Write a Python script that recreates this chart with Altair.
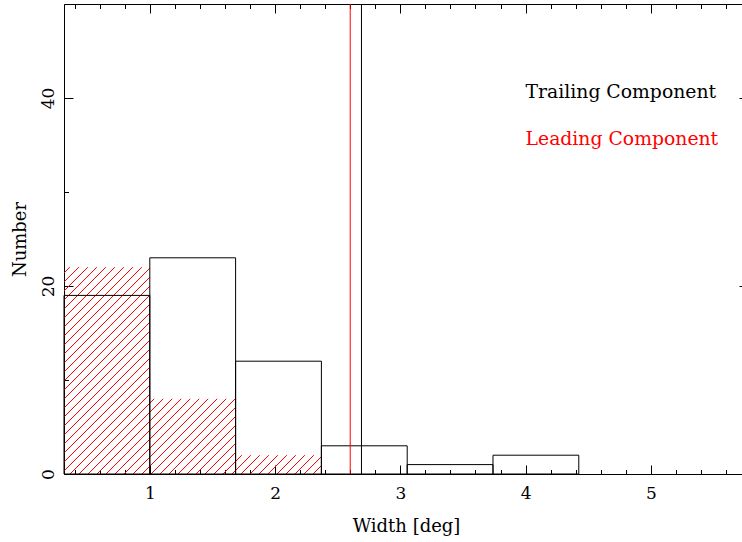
import json
import math
import altair as alt
import pandas as pd

# ---------------- data ----------------
BIN_EDGES = [0.315, 1.0, 1.685, 2.37, 3.055, 3.74, 4.425]
TRAILING_COUNTS = [19, 23, 12, 3, 1, 2]
LEADING_COUNTS = [22, 8, 2]
MARKER_POS = [2.6, 2.69]
MARKER_COLORS = ["#ff0000", "#000000"]
LABEL_TEXT = ["Trailing Component", "Leading Component"]
LABEL_X = [4.0, 4.0]
LABEL_Y = [40, 35]
LABEL_COLORS = ["#000000", "#ff0000"]

X_DOMAIN = [0.315, 5.728]
Y_DOMAIN = [0, 50]
X_TICKS = [0.4, 0.6, 0.8, 1, 1.2, 1.4, 1.6, 1.8, 2, 2.2, 2.4, 2.6, 2.8, 3,
           3.2, 3.4, 3.6, 3.8, 4, 4.2, 4.4, 4.6, 4.8, 5, 5.2, 5.4, 5.6]
X_MAJOR = [1, 2, 3, 4, 5]
Y_TICKS = [0, 10, 20, 30, 40, 50]
Y_MAJOR = [0, 20, 40]
RIGHT_TICKS = [20, 40]

W, H = 678, 470
FONT = "DejaVu Serif"

# ---------------- tables ----------------
bars = pd.DataFrame({
    "x0": BIN_EDGES[:-1],
    "x1": BIN_EDGES[1:],
    "count": TRAILING_COUNTS,
    "base": [0] * len(TRAILING_COUNTS),
})

# hatch segments (45 degree in screen space) clipped to each leading bar
px_x = W / (X_DOMAIN[1] - X_DOMAIN[0])
px_y = H / (Y_DOMAIN[1] - Y_DOMAIN[0])
r = px_y / px_x
spacing = 9 / px_x
phase = X_DOMAIN[0] + 6 / px_x
segs = []
for i, h in enumerate(LEADING_COUNTS):
    a, b = BIN_EDGES[i], BIN_EDGES[i + 1]
    n0 = math.floor((a - h * r - phase) / spacing) - 1
    n1 = math.ceil((b - phase) / spacing) + 1
    for n in range(n0, n1 + 1):
        c = phase + n * spacing
        ylo = max(0.0, (a - c) / r)
        yhi = min(float(h), (b - c) / r)
        if yhi - ylo > 1e-6:
            segs.append({"hx": c + ylo * r, "hy": ylo, "hx2": c + yhi * r, "hy2": yhi})
hatch = pd.DataFrame(segs)

markers = pd.DataFrame({"pos": MARKER_POS, "c": MARKER_COLORS})
labels = pd.DataFrame({"t": LABEL_TEXT, "lx": LABEL_X, "ly": LABEL_Y, "c": LABEL_COLORS})

xs = alt.Scale(domain=X_DOMAIN, nice=False, zero=False)
ys = alt.Scale(domain=Y_DOMAIN, nice=False, zero=False)

xmaj = json.dumps(X_MAJOR)
x_tick_expr = f"indexof({xmaj}, datum.value) >= 0 ? -9 : -4.5"
x_label_expr = f"indexof({xmaj}, datum.value) >= 0 ? '' + datum.value : ''"
ymaj = json.dumps(Y_MAJOR)
y_tick_expr = f"indexof({ymaj}, datum.value) >= 0 ? -9 : -4.5"
y_label_expr = f"indexof({ymaj}, datum.value) >= 0 ? '' + datum.value : ''"

common = dict(grid=False, domainColor="black", domainWidth=1, tickColor="black",
              tickWidth=1, labelColor="black", labelFont=FONT, titleFont=FONT,
              titleColor="black", titleFontWeight="normal", labelOverlap=False,
              labelFlush=False, labelBound=False)

bottom_axis = alt.Axis(orient="bottom", values=X_TICKS, tickSize={"expr": x_tick_expr},
                       labelExpr=x_label_expr, labelFontSize=17, labelBaseline="alphabetic",
                       labelPadding=33, title="Width [deg]", titleFontSize=18,
                       titleX=342, titleY=57, titleAlign="center",
                       titleBaseline="alphabetic", **common)
top_axis = alt.Axis(orient="top", values=X_TICKS, tickSize={"expr": x_tick_expr},
                    labels=False, title="", **common)
left_axis = alt.Axis(orient="left", values=Y_TICKS, tickSize={"expr": y_tick_expr},
                     labelExpr=y_label_expr, labelFontSize=17, labelAngle=270,
                     labelAlign="center", labelBaseline="alphabetic", labelPadding=20,
                     title="Number", titleFontSize=18, titleAngle=270, titleAlign="center",
                     titleBaseline="alphabetic", titleX=-39, titleY=235, **common)
right_axis = alt.Axis(orient="right", values=RIGHT_TICKS, tickSize=3, offset=-3,
                      labels=False, domain=False, title="", **common)

hatch_layer = alt.Chart(hatch).mark_rule(color="#ff0000", strokeWidth=1).encode(
    x=alt.X("hx:Q", scale=xs, axis=None),
    x2="hx2:Q",
    y=alt.Y("hy:Q", scale=ys, axis=None),
    y2="hy2:Q",
)

bar_layer = alt.Chart(bars).mark_rect(fill="white", fillOpacity=0, stroke="black",
                                      strokeWidth=1).encode(
    x=alt.X("x0:Q", scale=xs, axis=bottom_axis),
    x2="x1:Q",
    y=alt.Y("count:Q", scale=ys, axis=left_axis),
    y2="base:Q",
)

marker_layer = alt.Chart(markers).mark_rule(strokeWidth=1).encode(
    x=alt.X("pos:Q", scale=xs, axis=top_axis),
    color=alt.Color("c:N", scale=None),
)

text_layer = alt.Chart(labels).mark_text(align="left", baseline="alphabetic", font=FONT,
                                         fontSize=18.8).encode(
    x=alt.X("lx:Q", scale=xs, axis=None),
    y=alt.Y("ly:Q", scale=ys, axis=right_axis),
    text="t:N",
    color=alt.Color("c:N", scale=None),
)

chart = alt.layer(hatch_layer, bar_layer, marker_layer, text_layer).resolve_axis(
    x="independent", y="independent"
).properties(
    width=W, height=H,
    autosize=alt.AutoSizeParams(type="none"),
    padding={"left": 64, "top": 4, "right": 0, "bottom": 68},
    background="white",
).configure_view(stroke=None)

chart.save("out.html", embed_options={"renderer": "svg", "actions": False})
